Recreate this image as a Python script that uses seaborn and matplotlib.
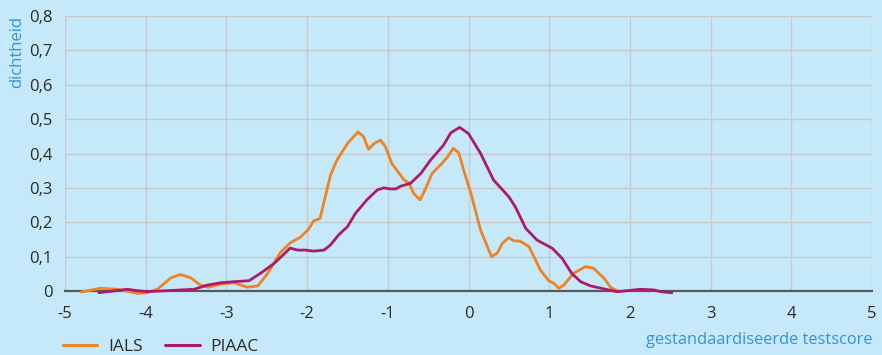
import matplotlib
matplotlib.use("Agg")
import matplotlib.pyplot as plt
import matplotlib.ticker as mticker
import numpy as np
import pandas as pd
import seaborn as sns

# Density of standardised test scores, two survey rounds
ials_x = [-4.80, -4.56, -4.35, -4.10, -3.98, -3.85, -3.69, -3.57, -3.44, -3.32,
          -3.22, -3.07, -2.91, -2.74, -2.61, -2.49, -2.33, -2.21, -2.08, -1.98,
          -1.92, -1.84, -1.71, -1.63, -1.50, -1.37, -1.30, -1.24, -1.17, -1.09,
          -1.03, -0.95, -0.80, -0.74, -0.68, -0.60, -0.55, -0.45, -0.33, -0.26,
          -0.19, -0.12, -0.06, 0.03, 0.15, 0.285, 0.355, 0.42, 0.50, 0.56,
          0.64, 0.75, 0.89, 0.995, 1.06, 1.12, 1.18, 1.30, 1.45, 1.55,
          1.68, 1.76, 1.82, 1.86]
ials_y = [-0.003, 0.008, 0.005, -0.007, -0.005, 0.006, 0.038, 0.048, 0.038, 0.017,
          0.011, 0.020, 0.024, 0.011, 0.015, 0.051, 0.112, 0.140, 0.157, 0.180,
          0.204, 0.211, 0.337, 0.381, 0.429, 0.463, 0.449, 0.412, 0.429, 0.439,
          0.420, 0.371, 0.323, 0.315, 0.284, 0.265, 0.289, 0.342, 0.371, 0.390,
          0.415, 0.402, 0.352, 0.284, 0.177, 0.100, 0.110, 0.139, 0.155, 0.146,
          0.145, 0.129, 0.061, 0.030, 0.022, 0.008, 0.017, 0.051, 0.071, 0.066,
          0.037, 0.011, 0.003, 0.000]

piaac_x = [-4.58, -4.40, -4.23, -4.10, -3.98, -3.82, -3.57, -3.40, -3.24, -3.07,
           -2.91, -2.72, -2.58, -2.41, -2.31, -2.21, -2.12, -2.02, -1.92, -1.79,
           -1.71, -1.61, -1.50, -1.40, -1.26, -1.13, -1.05, -0.97, -0.90, -0.84,
           -0.72, -0.59, -0.47, -0.31, -0.22, -0.11, 0.00, 0.15, 0.31, 0.50,
           0.58, 0.71, 0.85, 1.04, 1.16, 1.28, 1.39, 1.51, 1.68, 1.84,
           1.97, 2.13, 2.30, 2.38, 2.52]
piaac_y = [-0.005, 0.000, 0.005, 0.001, -0.002, 0.000, 0.003, 0.005, 0.017, 0.024,
           0.027, 0.030, 0.051, 0.080, 0.102, 0.125, 0.119, 0.119, 0.116, 0.119,
           0.134, 0.163, 0.187, 0.226, 0.265, 0.294, 0.300, 0.297, 0.297, 0.305,
           0.313, 0.342, 0.381, 0.424, 0.460, 0.476, 0.458, 0.400, 0.323, 0.274,
           0.245, 0.182, 0.148, 0.124, 0.095, 0.051, 0.027, 0.015, 0.006, -0.002,
           0.001, 0.005, 0.003, -0.002, -0.005]

series = ["IALS", "PIAAC"]
colors = ["#ef8223", "#ab1a6c"]

df = pd.concat([
    pd.DataFrame({"score": ials_x, "density": ials_y, "survey": series[0]}),
    pd.DataFrame({"score": piaac_x, "density": piaac_y, "survey": series[1]}),
], ignore_index=True)

bg = "#c6e9f9"
blue = "#3493d8"
text_col = "#2a2a2a"

sns.set_theme(style="white")
plt.rcParams["font.family"] = ["Open Sans", "DejaVu Sans"]

fig = plt.figure(figsize=(8.82, 3.55), dpi=100, facecolor=bg)
ax = fig.add_axes([65 / 882, 1 - 291 / 355, (872 - 65) / 882, (291 - 16) / 355])
ax.set_facecolor(bg)

sns.lineplot(data=df, x="score", y="density", hue="survey", palette=colors,
             hue_order=series, linewidth=2.0, sort=False, estimator=None,
             ax=ax, legend=False)
for ln in ax.lines:
    ln.set_clip_on(False)
    ln.set_zorder(3)

ax.set_xlim(-5, 5)
ax.set_ylim(0, 0.8)
ax.xaxis.set_major_locator(mticker.MultipleLocator(1))
ax.yaxis.set_major_locator(mticker.MultipleLocator(0.1))
ax.xaxis.set_major_formatter(mticker.FuncFormatter(
    lambda v, p: f"{int(round(v))}"))
ax.yaxis.set_major_formatter(mticker.FuncFormatter(
    lambda v, p: "0" if abs(v) < 1e-9 else f"{v:.1f}".replace(".", ",")))

ax.grid(True, color="#c9c9c9", linewidth=1.0, zorder=0)
ax.set_axisbelow(True)
for s in ["top", "right", "left"]:
    ax.spines[s].set_visible(False)
ax.spines["bottom"].set_color("#555a5e")
ax.spines["bottom"].set_linewidth(1.6)
ax.spines["bottom"].set_zorder(2)

ax.tick_params(axis="both", length=0, labelsize=12, labelcolor=text_col)
ax.tick_params(axis="x", pad=11)
ax.tick_params(axis="y", pad=9)
ax.set_xlabel("")
ax.set_ylabel("")

fig.text(17 / 882, 1 - 16 / 355, "dichtheid", rotation=90, ha="center",
         va="top", color=blue, fontsize=12)
fig.text(872 / 882, 1 - 340 / 355, "gestandaardiseerde testscore", ha="right",
         va="center", color=blue, fontsize=11.8)

handles = [plt.Line2D([], [], color=c, linewidth=2.2) for c in colors]
fig.legend(handles, series, loc="center left",
           bbox_to_anchor=(47 / 882, 1 - 347 / 355),
           ncol=2, frameon=False, fontsize=12.5, handlelength=2.0,
           handletextpad=0.6, columnspacing=1.3, labelcolor=text_col)

fig.savefig("out.png", dpi=100, facecolor=bg)
